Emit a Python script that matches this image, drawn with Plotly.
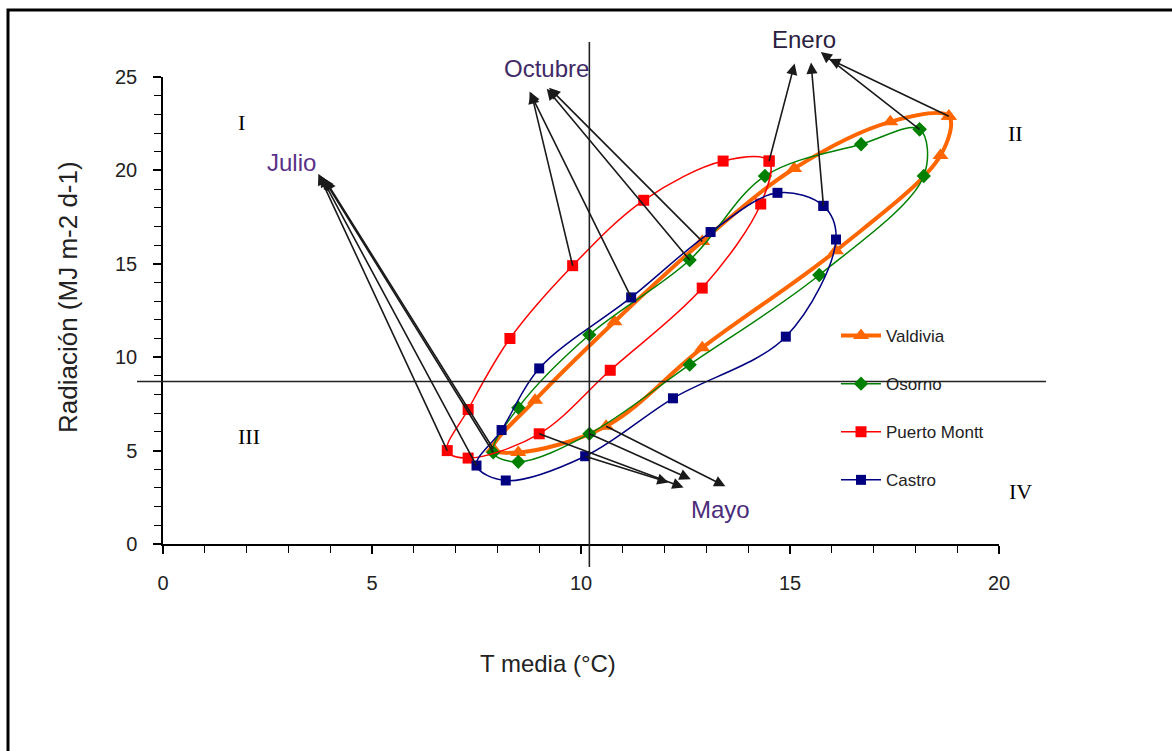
import plotly.graph_objects as go

# ---------------- data (monthly means, Jan..Dec) ----------------
months = ["Ene", "Feb", "Mar", "Abr", "May", "Jun", "Jul", "Ago", "Sep", "Oct", "Nov", "Dic"]

valdivia_t = [18.8, 18.6, 16.1, 12.9, 10.6, 8.5, 7.9, 8.9, 10.8, 12.9, 15.1, 17.4]
valdivia_r = [22.9, 20.8, 15.7, 10.5, 6.3, 4.9, 5.1, 7.7, 11.9, 16.2, 20.1, 22.6]

osorno_t = [18.1, 18.2, 15.7, 12.6, 10.2, 8.5, 7.9, 8.5, 10.2, 12.6, 14.4, 16.7]
osorno_r = [22.2, 19.7, 14.4, 9.6, 5.9, 4.4, 4.9, 7.3, 11.2, 15.2, 19.7, 21.4]

pmontt_t = [14.5, 14.3, 12.9, 10.7, 9.0, 7.3, 6.8, 7.3, 8.3, 9.8, 11.5, 13.4]
pmontt_r = [20.5, 18.2, 13.7, 9.3, 5.9, 4.6, 5.0, 7.2, 11.0, 14.9, 18.4, 20.5]

castro_t = [15.8, 16.1, 14.9, 12.2, 10.1, 8.2, 7.5, 8.1, 9.0, 11.2, 13.1, 14.7]
castro_r = [18.1, 16.3, 11.1, 7.8, 4.7, 3.4, 4.2, 6.1, 9.4, 13.2, 16.7, 18.8]

series_names = ["Valdivia", "Osorno", "Puerto Montt", "Castro"]

# reference lines (mean temperature / mean radiation)
T_REF = 10.2
R_REF = 8.7

x_ticks = [0, 5, 10, 15, 20]
y_ticks = [0, 5, 10, 15, 20, 25]

# ---------------- styles ----------------
styles = {
    "Valdivia": dict(color="#FF6600", width=4, symbol="triangle-up", size=14),
    "Osorno": dict(color="#008000", width=1.5, symbol="diamond", size=11),
    "Puerto Montt": dict(color="#FF0000", width=1.5, symbol="square", size=11),
    "Castro": dict(color="#000080", width=1.5, symbol="square", size=10),
}
data = {
    "Valdivia": (valdivia_t, valdivia_r),
    "Osorno": (osorno_t, osorno_r),
    "Puerto Montt": (pmontt_t, pmontt_r),
    "Castro": (castro_t, castro_r),
}

FONT = "Liberation Sans, Arial, sans-serif"

# plot-area geometry (pixels) used to place paper-referenced items
L, R, T, B = 163, 999, 77, 544
PW, PH = R - L, B - T


def px_x(p):
    return (p - L) / PW


def px_y(p):
    return (B - p) / PH


fig = go.Figure()
for name in series_names:
    t, r = data[name]
    s = styles[name]
    fig.add_trace(go.Scatter(
        x=t + t[:1], y=r + r[:1], name=name, legendgroup=name,
        mode="lines+markers",
        line=dict(color=s["color"], width=s["width"], shape="spline", smoothing=1.0),
        marker=dict(symbol=s["symbol"], size=s["size"], color=s["color"]),
        cliponaxis=False,
    ))

# ---------------- month arrows ----------------
month_arrows = {
    "Julio": (6, {"Valdivia": (3.85, 19.6), "Osorno": (3.8, 19.7),
                  "Puerto Montt": (3.7, 19.9), "Castro": (3.75, 19.8)}),
    "Octubre": (9, {"Valdivia": (9.2, 24.5), "Osorno": (9.15, 24.45),
                    "Puerto Montt": (8.8, 24.25), "Castro": (8.75, 24.3)}),
    "Enero": (0, {"Valdivia": (15.9, 26.0), "Osorno": (15.7, 26.4),
                  "Puerto Montt": (15.12, 25.8), "Castro": (15.5, 25.85)}),
    "Mayo": (4, {"Valdivia": (13.49, 3.05), "Osorno": (12.66, 3.43),
                 "Puerto Montt": (12.49, 3.0), "Castro": (12.13, 3.27)}),
}

annotations = []
for label, (mi, heads) in month_arrows.items():
    for name in series_names:
        t, r = data[name]
        hx, hy = heads[name]
        annotations.append(dict(
            x=t[mi], y=r[mi], xref="x", yref="y",
            ax=hx, ay=hy, axref="x", ayref="y",
            text="", showarrow=True, arrowside="start",
            startarrowhead=2, startarrowsize=1.4, arrowwidth=1.6,
            arrowcolor="#1a1a1a", standoff=0, startstandoff=0,
        ))

LBL = 24
annotations += [
    dict(x=px_x(291), y=px_y(163), xref="paper", yref="paper", text="Julio", showarrow=False,
         xanchor="center", yanchor="middle", font=dict(family=FONT, size=LBL, color="#5a3088")),
    dict(x=px_x(546), y=px_y(68), xref="paper", yref="paper", text="Octubre", showarrow=False,
         xanchor="center", yanchor="middle", font=dict(family=FONT, size=LBL, color="#3f2a66")),
    dict(x=px_x(804), y=px_y(39), xref="paper", yref="paper", text="Enero", showarrow=False,
         xanchor="center", yanchor="middle", font=dict(family=FONT, size=LBL, color="#2a2040")),
    dict(x=px_x(720), y=px_y(509), xref="paper", yref="paper", text="Mayo", showarrow=False,
         xanchor="center", yanchor="middle", font=dict(family=FONT, size=LBL, color="#4a2c7a")),
    # axis titles
    dict(x=px_x(548), y=px_y(663), xref="paper", yref="paper", text="T media (°C)", showarrow=False,
         xanchor="center", yanchor="middle", font=dict(family=FONT, size=24, color="#222222")),
    dict(x=px_x(68), y=px_y(297), xref="paper", yref="paper", text="Radiación (MJ m-2 d-1)",
         showarrow=False, textangle=-90, xanchor="center", yanchor="middle",
         font=dict(family=FONT, size=26, color="#222222")),
]

# quadrant numerals
quad = [("I", 241, 123), ("II", 1016, 133), ("III", 249, 436), ("IV", 1020, 491)]
for txt, px, py in quad:
    annotations.append(dict(
        x=px_x(px), y=px_y(py), xref="paper", yref="paper",
        text=txt, showarrow=False, xanchor="center", yanchor="middle",
        font=dict(family="Liberation Serif, Times New Roman, serif", size=22, color="black"),
    ))

shapes = [
    dict(type="line", xref="x", yref="paper", x0=T_REF, x1=T_REF,
         y0=px_y(567), y1=px_y(42), line=dict(color="#222222", width=1.6)),
    dict(type="line", xref="paper", yref="y", x0=px_x(137), x1=px_x(1046),
         y0=R_REF, y1=R_REF, line=dict(color="#222222", width=1.6)),
    dict(type="rect", xref="paper", yref="paper", x0=px_x(8), x1=px_x(1185),
         y0=px_y(765), y1=px_y(10), line=dict(color="black", width=3),
         fillcolor="rgba(0,0,0,0)", layer="below"),
]

axis_common = dict(
    showgrid=False, zeroline=False, showline=True, linecolor="black", linewidth=1.5,
    ticks="outside", ticklen=8, tickwidth=1.5, tickcolor="black",
    minor=dict(dtick=1, ticks="outside", ticklen=7, tickwidth=1.2, tickcolor="black", showgrid=False),
    tickfont=dict(family=FONT, size=20, color="#222222"),
    ticklabelstandoff=12,
)

fig.update_layout(
    width=1172, height=751,
    margin=dict(l=L, r=1172 - R, t=T, b=751 - B),
    paper_bgcolor="white", plot_bgcolor="white",
    font=dict(family=FONT, color="#222222"),
    showlegend=True,
    legend=dict(x=px_x(836), y=px_y(318), xanchor="left", yanchor="top",
                bgcolor="rgba(0,0,0,0)", font=dict(family=FONT, size=17, color="#222222"),
                tracegroupgap=23, itemwidth=40),
    annotations=annotations,
    shapes=shapes,
    xaxis=dict(range=[0, 20], tickvals=x_ticks, ticktext=[str(v) for v in x_ticks], **axis_common),
    yaxis=dict(range=[0, 25], tickvals=y_ticks, ticktext=[str(v) for v in y_ticks], **axis_common),
)

fig.write_html("out.html")
